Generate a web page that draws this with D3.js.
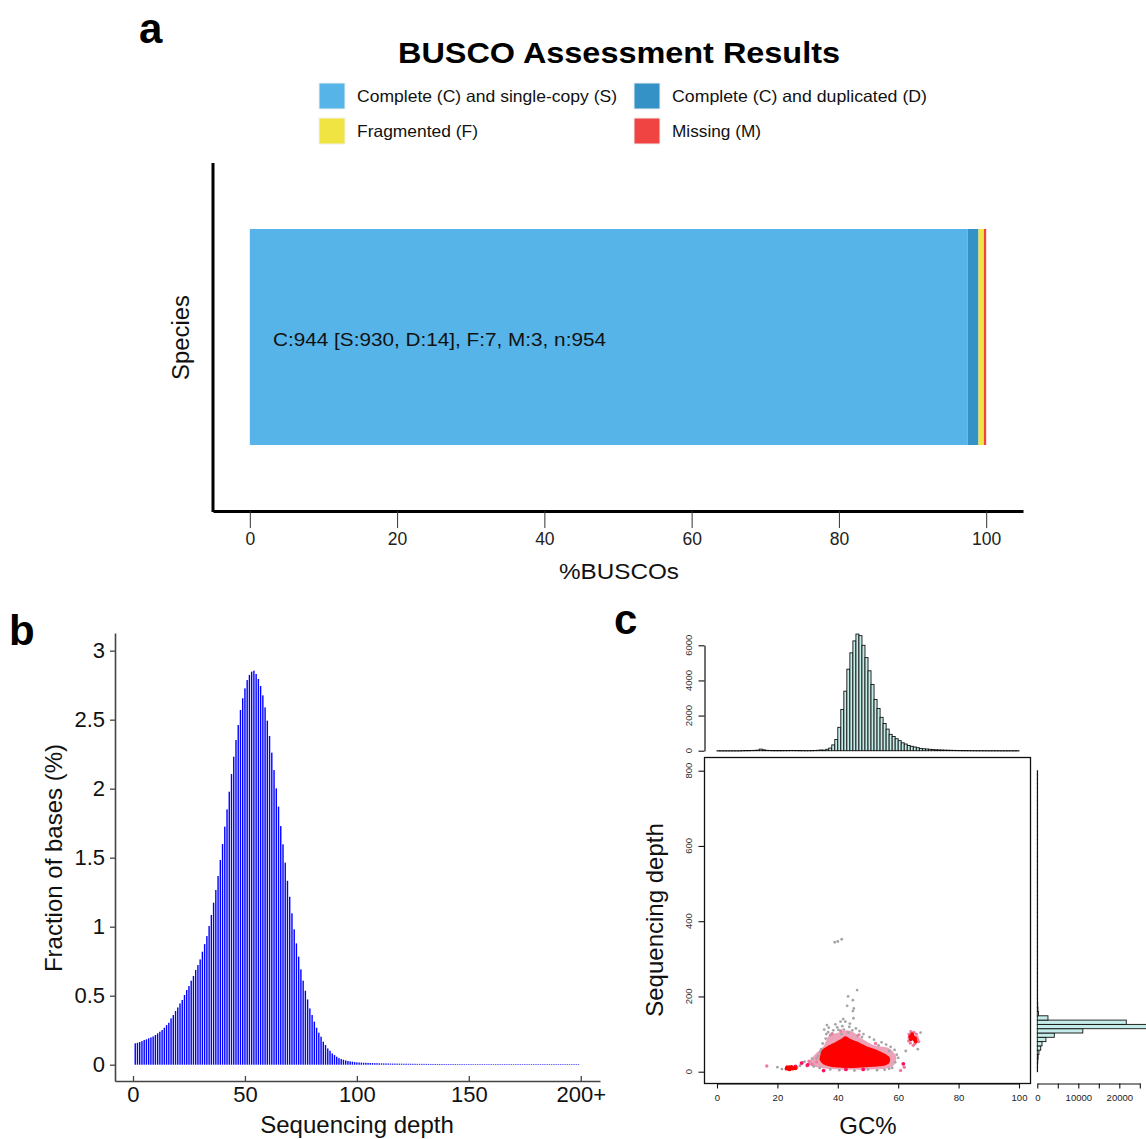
<!DOCTYPE html>
<html>
<head>
<meta charset="utf-8">
<script src="https://cdn.jsdelivr.net/npm/d3@7"></script>
<style>
  body { margin: 0; background: #fff; }
  text { font-family: "Liberation Sans", Arial, sans-serif; }
</style>
</head>
<body>
<div id="chart"></div>
<script>
// ---------- panel a data ----------
var buscoCats = ["Complete (C) and single-copy (S)", "Complete (C) and duplicated (D)", "Fragmented (F)", "Missing (M)"];
var buscoColors = ["#56B4E9", "#3492C7", "#F0E442", "#F04442"];
var buscoCounts = [930, 14, 7, 3];
var buscoTotal = 954;
var buscoTicks = [0, 20, 40, 60, 80, 100];
var buscoLabel = "C:944 [S:930, D:14], F:7, M:3, n:954";

// ---------- panel b data (depth 1..199, % of bases) ----------
var fracValues = [
  0.155,0.159,0.164,0.171,0.179,0.184,0.191,0.198,0.205,0.215,
  0.227,0.239,0.251,0.268,0.287,0.304,0.336,0.360,0.389,0.415,
  0.444,0.469,0.505,0.541,0.570,0.609,0.643,0.686,0.722,0.763,
  0.819,0.874,0.932,1.005,1.085,1.174,1.266,1.367,1.483,1.599,
  1.725,1.850,1.978,2.106,2.232,2.353,2.461,2.570,2.655,2.727,
  2.787,2.824,2.848,2.855,2.831,2.795,2.744,2.676,2.589,2.493,
  2.382,2.261,2.135,2.002,1.870,1.729,1.597,1.464,1.333,1.217,
  1.097,0.981,0.879,0.783,0.691,0.609,0.536,0.473,0.408,0.360,
  0.312,0.268,0.232,0.203,0.167,0.143,0.118,0.101,0.082,0.070,
  0.058,0.048,0.041,0.036,0.031,0.027,0.024,0.022,0.019,0.017,
  0.016,0.015,0.014,0.014,0.013,0.012,0.012,0.011,0.011,0.010,
  0.010,0.0095,0.009,0.009,0.0085,0.008,0.008,0.008,0.0075,0.0075,
  0.007,0.007,0.007,0.0068,0.0066,0.0065,0.0063,0.0062,0.006,0.006,
  0.0058,0.0057,0.0056,0.0055,0.0054,0.0053,0.0052,0.0051,0.005,0.005,
  0.0049,0.0048,0.0048,0.0047,0.0046,0.0046,0.0045,0.0045,0.0044,0.0044,
  0.0043,0.0043,0.0042,0.0042,0.0041,0.0041,0.004,0.004,0.004,0.0039,
  0.0039,0.0038,0.0038,0.0038,0.0037,0.0037,0.0037,0.0036,0.0036,0.0036,
  0.0035,0.0035,0.0035,0.0034,0.0034,0.0034,0.0034,0.0033,0.0033,0.0033,
  0.0033,0.0032,0.0032,0.0032,0.0032,0.0031,0.0031,0.0031,0.0031,0.003,
  0.003,0.003,0.003,0.003,0.0029,0.0029,0.0029,0.0029,0.0029
];
var depthTicks = [0, 50, 100, 150, 200];
var fracTicks = [0, 0.5, 1, 1.5, 2, 2.5, 3];

// ---------- panel c data ----------
var gcTicks = [0, 20, 40, 60, 80, 100];
var seqTicks = [0, 200, 400, 600, 800];
// GC% histogram, 1% bins from 0 to 100
var gcHistCounts = [
  0,0,0,0,0,0,0,0,5,10,
  10,15,20,30,90,50,20,15,10,10,
  10,10,12,12,15,15,12,10,8,8,
  8,10,15,25,40,30,80,150,330,640,
  1330,2350,3390,4640,5570,6250,6640,6550,6000,5300,
  4550,3770,2920,2400,1900,1550,1230,930,810,680,
  570,450,380,300,250,210,170,130,110,95,
  80,65,55,45,40,32,28,22,18,15,
  12,10,10,8,8,6,6,5,5,4,
  4,3,3,3,2,2,2,2,2,2
];
var gcHistTicks = [0, 2000, 4000, 6000];
// depth histogram, 70 bins from 0 to 800
var depthHistCounts = [
  50,80,120,200,400,830,1150,2100,4150,11100,
  28000,21700,2600,300,150,100,80,60,40,30,
  25,20,18,15,12,10,10,8,8,6,
  6,5,5,4,4,3,3,3,2,2,
  2,2,2,2,1,1,1,1,1,1,
  1,1,1,1,1,1,1,1,1,1,
  1,1,1,1,1,1,1,1,1,1
];
var depthHistTicks = [0, 5000, 10000, 15000, 20000, 25000];
var depthHistLabels = [0, 10000, 20000];

// scatter: dense core outline, halo outline and single points (GC%, depth)
var redCore = [[34.2,44],[34.8,58],[36.4,67],[38.6,76],[40.9,86],[42.5,94],[44.2,87],[46.4,80],
  [49.7,67],[53.0,58],[55.8,47],[57.3,36],[56.9,22],[54.7,15],[49.7,12],[44.2,10],[38.6,12],[35.3,19],[34.0,31]];
var pinkHalo = [[30.9,31],[32.6,47],[35.3,68],[37.0,95],[40.3,104],[43.1,110],[45.3,104],[47.5,90],
  [52.0,70],[56.4,64],[58.4,52],[59.4,36],[58.4,16],[55.8,8],[49.7,6],[43.1,5],[37.5,7],[33.1,12],[30.4,20]];
var greyPts = [[39.0,344],[40.0,346],[41.3,352],[46.4,217],[43.4,200],[45.0,190],[43.1,175],[45.3,168],
  [45.0,161],[45.2,142],[40.9,133],[42.5,133],[36.4,124],[44.0,128],[41.8,140],[35.5,112],[37.0,117],
  [38.5,110],[39.8,118],[41.5,121],[43.8,119],[46.0,115],[47.2,108],[48.5,100],[50.5,92],[52.0,85],
  [54.5,78],[56.0,72],[57.5,66],[58.8,58],[59.5,45],[60.0,37],[59.0,25],[58.0,10],[57.0,8],[55.5,5],
  [53.0,4],[50.0,6],[45.5,3],[40.5,4],[37.5,6],[34.0,10],[32.0,14],[30.5,22],[29.0,27],[31.5,35],
  [33.5,42],[34.5,60],[35.0,75],[36.0,88],[37.5,97],[67.4,104],[66.5,60],[63.5,100],[62.5,55],
  [20.0,12],[21.5,7],[27.5,16],[28.5,25],[26.5,12],[36.8,105],[39.2,126],[42.0,112],[44.8,110],[57.0,55],
  [38.2,102],[40.2,111],[41.2,100],[43.5,104],[46.5,96],[48.0,92],[34.2,52],[33.0,36],[36.2,100],[53.5,70]];
var pinkPts = [[16.5,15],[60.8,3],[30.5,28],[31.5,20],[33.0,26],[29.8,16],[62.0,12],[63.8,98],[66.2,92],
  [65.5,74],[66.8,80],[63.5,82],[64.2,106],[65.0,70],[66.0,100],[38.0,100],[41.0,108],[47.0,98],[52.5,75],
  [63.6,90],[66.4,86],[64.0,76],[65.2,104]];
var redPts = [[61.7,21],[35.3,3],[42.7,6],[48.4,6],[28.0,23],[30.0,18],[26.0,14],
  [23.0,8],[23.5,10],[24.0,12],[24.5,9],[25.0,8],[25.5,10],[24.0,6],[23.2,12],[26.0,9],[24.7,13],[23.8,7],
  [64.5,92],[65.0,88],[64.8,95],[65.5,84],[64.2,86],[65.8,80],[64.6,100],[65.2,91],[64.0,94],[65.6,88]];

// ---------- svg ----------
var svg = d3.select("#chart").append("svg")
  .attr("width", 1146)
  .attr("height", 1139);

svg.append("rect").attr("width", 1146).attr("height", 1139).attr("fill", "#fff");

function panelLabel(txt, x, y) {
  svg.append("text").attr("x", x).attr("y", y).text(txt)
    .attr("font-size", "42px").attr("font-weight", "bold");
}
panelLabel("a", 139, 43);
panelLabel("b", 9, 645);
panelLabel("c", 614, 634);

// ================= panel a =================
var xA = d3.scaleLinear().domain([-5, 105]).range([213, 1023]);
var yA = d3.scaleBand().domain(["Species"]).range([163, 511]).padding(0.234);

svg.append("text")
  .attr("x", 398).attr("y", 63)
  .attr("font-size", "30px").attr("font-weight", "bold")
  .attr("textLength", 442).attr("lengthAdjust", "spacingAndGlyphs")
  .text("BUSCO Assessment Results");

// legend
var legPos = [[319, 83], [634, 83], [319, 118], [634, 118]];
var legLen = [260, 255, 121, 89];
buscoCats.forEach(function (c, i) {
  svg.append("rect").attr("x", legPos[i][0]).attr("y", legPos[i][1])
    .attr("width", 26).attr("height", 26)
    .attr("fill", buscoColors[i]).attr("stroke", "#f0f0f0");
  svg.append("text").attr("x", legPos[i][0] + 38).attr("y", legPos[i][1] + 19)
    .attr("font-size", "16.5px").attr("fill", "#111")
    .attr("textLength", legLen[i]).attr("lengthAdjust", "spacingAndGlyphs").text(c);
});

// stacked bar
var acc = 0;
var segs = buscoCounts.map(function (v, i) {
  var p = v / buscoTotal * 100;
  var s = { start: acc, end: acc + p, color: buscoColors[i] };
  acc += p;
  return s;
});
svg.selectAll(".seg").data(segs).enter().append("rect")
  .attr("class", "seg")
  .attr("x", function (d) { return xA(d.start); })
  .attr("width", function (d) { return xA(d.end) - xA(d.start); })
  .attr("y", yA("Species"))
  .attr("height", yA.bandwidth())
  .attr("fill", function (d) { return d.color; });

svg.append("text")
  .attr("x", 273).attr("y", yA("Species") + yA.bandwidth() / 2 + 9)
  .attr("font-size", "18px").attr("fill", "#111")
  .attr("textLength", 333).attr("lengthAdjust", "spacingAndGlyphs")
  .text(buscoLabel);

var axA = svg.append("g").attr("transform", "translate(0,511)")
  .call(d3.axisBottom(xA).tickValues(buscoTicks).tickSizeInner(17).tickSizeOuter(0).tickPadding(5));
axA.select(".domain").attr("stroke", "#000").attr("stroke-width", 3);
axA.selectAll(".tick line").attr("stroke", "#333").attr("stroke-width", 1);
axA.selectAll(".tick text").attr("font-size", "17.5px").attr("fill", "#222");

svg.append("line").attr("x1", 213).attr("x2", 213).attr("y1", 163).attr("y2", 512)
  .attr("stroke", "#000").attr("stroke-width", 3);

svg.append("text").attr("x", 559).attr("y", 579)
  .attr("font-size", "22px").attr("fill", "#111")
  .attr("textLength", 120).attr("lengthAdjust", "spacingAndGlyphs").text("%BUSCOs");
svg.append("text").attr("transform", "translate(189,380) rotate(-90)")
  .attr("font-size", "23px").attr("fill", "#111")
  .attr("textLength", 85).attr("lengthAdjust", "spacingAndGlyphs").text("Species");

// ================= panel b =================
var xB = d3.scaleLinear().domain([-8.04, 208.6]).range([115, 600]);
var yB = d3.scaleLinear().domain([-0.118, 3.128]).range([1081, 633]);

svg.selectAll(".dbar").data(fracValues).enter().append("rect")
  .attr("class", "dbar")
  .attr("x", function (d, i) { return xB(i + 1) - 0.7; })
  .attr("width", 1.4)
  .attr("y", function (d) { return yB(d); })
  .attr("height", function (d) { return Math.max(yB(0) - yB(d), 0.6); })
  .attr("fill", "#0000ff");

var axBy = svg.append("g").attr("transform", "translate(115,0)")
  .call(d3.axisLeft(yB).tickValues(fracTicks).tickSizeInner(5).tickSizeOuter(0).tickPadding(5)
    .tickFormat(function (d) { return d; }));
var axBx = svg.append("g").attr("transform", "translate(0,1081)")
  .call(d3.axisBottom(xB).tickValues(depthTicks).tickSizeInner(-5).tickSizeOuter(0).tickPadding(5)
    .tickFormat(function (d) { return d === 200 ? "200+" : d; }));
[axBy, axBx].forEach(function (g) {
  g.select(".domain").attr("stroke", "#444").attr("stroke-width", 1.6);
  g.selectAll(".tick line").attr("stroke", "#444").attr("stroke-width", 1.3);
  g.selectAll(".tick text").attr("font-size", "22px").attr("fill", "#111");
});
svg.append("text").attr("x", 357).attr("y", 1133).attr("text-anchor", "middle")
  .attr("font-size", "24px").attr("fill", "#111").text("Sequencing depth");
svg.append("text").attr("transform", "translate(62,858) rotate(-90)")
  .attr("text-anchor", "middle").attr("font-size", "24px").attr("fill", "#111")
  .text("Fraction of bases (%)");

// ================= panel c =================
var xC = d3.scaleLinear().domain([0, 100]).range([717, 1019]);
var yC = d3.scaleLinear().domain([0, 800]).range([1071.7, 770.7]);
var yTop = d3.scaleLinear().domain([0, 6000]).range([750.7, 645.3]);
var xRight = d3.scaleLinear().domain([0, 25000]).range([1037.3, 1139.8]);
var histFill = "#c4ece8";

// top histogram
svg.selectAll(".gch").data(gcHistCounts).enter().append("rect")
  .attr("class", "gch")
  .attr("x", function (d, i) { return xC(i); })
  .attr("width", xC(1) - xC(0))
  .attr("y", function (d) { return yTop(d); })
  .attr("height", function (d) { return Math.max(yTop(0) - yTop(d), 0.3); })
  .attr("fill", histFill).attr("stroke", "#111").attr("stroke-width", 0.9);

var axTop = svg.append("g").attr("transform", "translate(704.5,0)")
  .call(d3.axisLeft(yTop).tickValues(gcHistTicks).tickSizeInner(6).tickSizeOuter(0).tickFormat(""));

// right histogram
var binH = 800 / depthHistCounts.length;
svg.selectAll(".dph").data(depthHistCounts).enter().append("rect")
  .attr("class", "dph")
  .attr("x", xRight(0))
  .attr("width", function (d) { return Math.max(xRight(d) - xRight(0), 0.3); })
  .attr("y", function (d, i) { return yC((i + 1) * binH); })
  .attr("height", function (d, i) { return yC(i * binH) - yC((i + 1) * binH); })
  .attr("fill", histFill).attr("stroke", "#111").attr("stroke-width", 0.9);

var axRight = svg.append("g").attr("transform", "translate(0,1083.5)")
  .call(d3.axisBottom(xRight).tickValues(depthHistTicks).tickSizeInner(5).tickSizeOuter(0).tickPadding(6)
    .tickFormat(function (d) { return depthHistLabels.indexOf(d) >= 0 ? d : ""; }));

// scatter
var line = d3.line().x(function (d) { return xC(d[0]); }).y(function (d) { return yC(d[1]); })
  .curve(d3.curveCardinalClosed.tension(0.2));
svg.append("path").attr("d", line(pinkHalo)).attr("fill", "#eda2b8");
svg.selectAll(".gp").data(greyPts).enter().append("circle").attr("class", "gp")
  .attr("cx", function (d) { return xC(d[0]); }).attr("cy", function (d) { return yC(d[1]); })
  .attr("r", 1.4).attr("fill", "#a8a4a6");
svg.selectAll(".pp").data(pinkPts).enter().append("circle").attr("class", "pp")
  .attr("cx", function (d) { return xC(d[0]); }).attr("cy", function (d) { return yC(d[1]); })
  .attr("r", 1.7).attr("fill", "#f07aa0");
svg.append("path").attr("d", line(redCore)).attr("fill", "#ff0000");
svg.selectAll(".rp").data(redPts).enter().append("circle").attr("class", "rp")
  .attr("cx", function (d) { return xC(d[0]); }).attr("cy", function (d) { return yC(d[1]); })
  .attr("r", 1.9).attr("fill", function (d, i) { return i < 7 ? "#ff1060" : "#ff0000"; });

// frame + axes
svg.append("rect").attr("x", 704.5).attr("y", 757.5).attr("width", 326).attr("height", 326)
  .attr("fill", "none").attr("stroke", "#111").attr("stroke-width", 1.3);
var axCy = svg.append("g").attr("transform", "translate(704.5,0)")
  .call(d3.axisLeft(yC).tickValues(seqTicks).tickSizeInner(6).tickSizeOuter(0).tickFormat(""));
var axCx = svg.append("g").attr("transform", "translate(0,1083.5)")
  .call(d3.axisBottom(xC).tickValues(gcTicks).tickSizeInner(5).tickSizeOuter(0).tickPadding(6));
[axTop, axRight, axCy, axCx].forEach(function (g) {
  g.select(".domain").attr("stroke", "#111").attr("stroke-width", 1.2);
  g.selectAll(".tick line").attr("stroke", "#111").attr("stroke-width", 1.1);
  g.selectAll(".tick text").attr("font-size", "9.5px").attr("fill", "#222");
});
axCy.select(".domain").remove();

// rotated tick labels on the left axes
function rotLabels(vals, scale) {
  svg.selectAll(null).data(vals).enter().append("text")
    .attr("transform", function (d) { return "translate(692," + scale(d) + ") rotate(-90)"; })
    .attr("text-anchor", "middle").attr("font-size", "9.5px").attr("fill", "#333")
    .text(function (d) { return d; });
}
rotLabels(seqTicks, yC);
rotLabels(gcHistTicks, yTop);

svg.append("text").attr("x", 868).attr("y", 1134).attr("text-anchor", "middle")
  .attr("font-size", "24px").attr("fill", "#111").text("GC%");
svg.append("text").attr("transform", "translate(663,920) rotate(-90)")
  .attr("text-anchor", "middle").attr("font-size", "24px").attr("fill", "#111")
  .text("Sequencing depth");
</script>
</body>
</html>
